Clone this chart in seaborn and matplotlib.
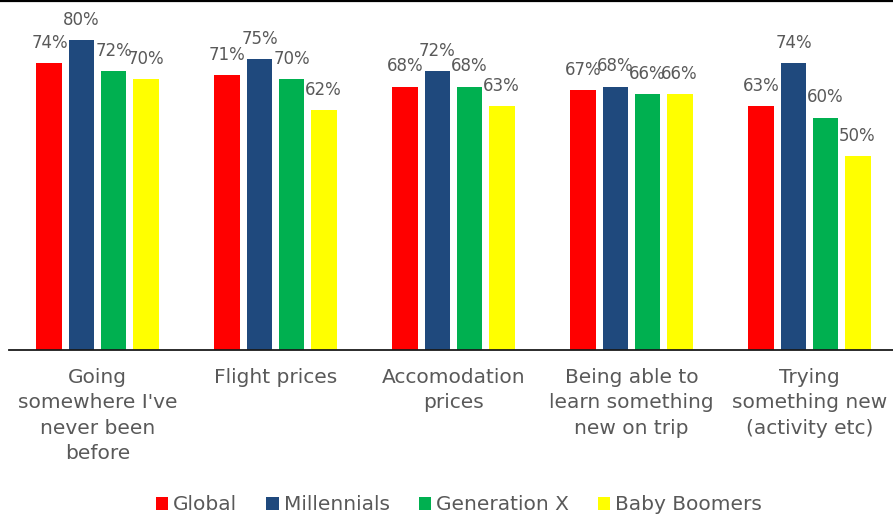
import matplotlib
matplotlib.use("Agg")
import matplotlib.pyplot as plt
from matplotlib.patches import Patch
from matplotlib.lines import Line2D
import pandas as pd
import seaborn as sns

categories = [
    "Going\nsomewhere I've\nnever been\nbefore",
    "Flight prices",
    "Accomodation\nprices",
    "Being able to\nlearn something\nnew on trip",
    "Trying\nsomething new\n(activity etc)",
]
series_names = ["Global", "Millennials", "Generation X", "Baby Boomers"]
global_vals = [74, 71, 68, 67, 63]
millennials_vals = [80, 75, 72, 68, 74]
genx_vals = [72, 70, 68, 66, 60]
boomers_vals = [70, 62, 63, 66, 50]
colors = ["#FF0000", "#1F497D", "#00B050", "#FFFF00"]

rows = []
for name, vals in zip(series_names,
                      [global_vals, millennials_vals, genx_vals, boomers_vals]):
    for cat, v in zip(categories, vals):
        rows.append({"category": cat, "group": name, "value": v})
df = pd.DataFrame(rows)

sns.set_theme(style="white")
plt.rcParams["font.family"] = ["DejaVu Sans"]
text_color = "#595959"

fig = plt.figure(figsize=(8.93, 5.14), dpi=100)
W, H = 893, 514
ax = fig.add_axes([8.5 / W, (H - 350) / H, 890 / W, 350 / H])

sns.barplot(data=df, x="category", y="value", hue="group",
            order=categories, hue_order=series_names,
            palette=colors, width=0.72, gap=0.19,
            linewidth=0, saturation=1, errorbar=None, ax=ax)

for cont in ax.containers:
    ax.bar_label(cont, fmt="%.0f%%", padding=8, fontsize=12, color=text_color)

ax.set_ylim(0, 350 / 3.875)
ax.set_xlim(-0.5, len(categories) - 0.5)
ax.set_xlabel("")
ax.set_ylabel("")
ax.set_yticks([])
for s in ["top", "right", "left"]:
    ax.spines[s].set_visible(False)
ax.spines["bottom"].set_color("#1a1a1a")
ax.spines["bottom"].set_linewidth(1.3)
ax.tick_params(axis="x", length=0, pad=13, labelsize=14.5, labelcolor=text_color)
for lbl in ax.get_xticklabels():
    lbl.set_linespacing(1.42)

if ax.get_legend() is not None:
    ax.get_legend().remove()
handles = [Patch(facecolor=c, edgecolor="none", label=n)
           for c, n in zip(colors, series_names)]
fig.legend(handles=handles, loc="center", bbox_to_anchor=(0.514, 9 / H),
           ncol=4, frameon=False, fontsize=14.5, labelcolor=text_color,
           handlelength=0.6, handleheight=0.6, handletextpad=0.25,
           columnspacing=1.45, borderpad=0, borderaxespad=0)

fig.add_artist(Line2D([0, 1], [1 - 1 / H, 1 - 1 / H], color="black",
                      linewidth=1.6, transform=fig.transFigure))

fig.savefig("out.png", dpi=100)
